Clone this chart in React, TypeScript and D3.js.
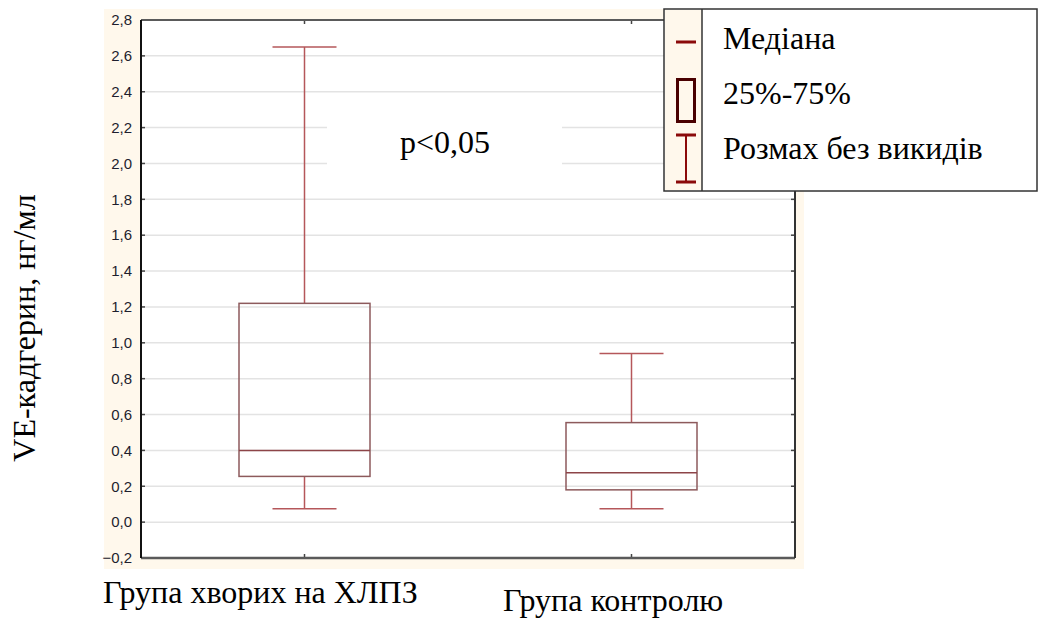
import * as d3 from "d3";

// data
const categories = ["Група хворих на ХЛПЗ", "Група контролю"];
const whiskerMax = [2.65, 0.94];
const q3 = [1.22, 0.555];
const medians = [0.4, 0.275];
const q1 = [0.255, 0.18];
const whiskerMin = [0.075, 0.075];
const yTicks = [-0.2, 0, 0.2, 0.4, 0.6, 0.8, 1.0, 1.2, 1.4, 1.6, 1.8, 2.0, 2.2, 2.4, 2.6, 2.8];
const legendItems = ["Медіана", "25%-75%", "Розмах без викидів"];

const W = 1039;
const H = 619;
const plot = { left: 141, right: 795, top: 20, bottom: 558 };

const serif = { fontFamily: "Liberation Serif" };
const sans = { fontFamily: "Liberation Sans" };

export default function App() {
  const y = d3.scaleLinear().domain([-0.2, 2.8]).range([plot.bottom, plot.top]);
  const x = d3.scalePoint<string>().domain(categories).range([plot.left, plot.right]).padding(0.5);

  const boxW = 131;
  const capW = 64;
  const fmt = (v: number) => d3.format(".1f")(v).replace(".", ",");

  return (
    <svg width={W} height={H} style={{ position: "absolute", left: 0, top: 0, background: "#fff" }}>
      {/* cream frame around plot */}
      <rect x={104} y={9} width={700} height={560} fill="#fff8ec" />
      <rect x={plot.left} y={plot.top} width={plot.right - plot.left} height={plot.bottom - plot.top} fill="#fff" />

      {/* grid lines */}
      {yTicks.slice(1, -1).map((t) => (
        <line key={"g" + t} x1={plot.left} x2={plot.right} y1={y(t)} y2={y(t)} stroke="#e3e3e3" strokeWidth={1.5} />
      ))}

      {/* white patch behind p-value */}
      <rect x={327} y={108} width={235} height={70} fill="#fff" />
      <text x={400} y={153} fontSize={32} fill="#000" style={serif}>p&lt;0,05</text>

      {/* boxes and whiskers */}
      {categories.map((c, i) => {
        const cx = x(c) as number;
        return (
          <g key={c}>
            <line x1={cx} x2={cx} y1={y(whiskerMax[i])} y2={y(q3[i])} stroke="#b5575a" strokeWidth={1.5} />
            <line x1={cx} x2={cx} y1={y(q1[i])} y2={y(whiskerMin[i])} stroke="#b5575a" strokeWidth={1.5} />
            <line x1={cx - capW / 2} x2={cx + capW / 2} y1={y(whiskerMax[i])} y2={y(whiskerMax[i])} stroke="#b5575a" strokeWidth={1.5} />
            <line x1={cx - capW / 2} x2={cx + capW / 2} y1={y(whiskerMin[i])} y2={y(whiskerMin[i])} stroke="#b5575a" strokeWidth={1.5} />
            <rect x={cx - boxW / 2} y={y(q3[i])} width={boxW} height={y(q1[i]) - y(q3[i])} fill="none" stroke="#8d5a5c" strokeWidth={1.5} />
            <line x1={cx - boxW / 2} x2={cx + boxW / 2} y1={y(medians[i])} y2={y(medians[i])} stroke="#8d4448" strokeWidth={1.5} />
            {/* category tick marks */}
            <line x1={cx} x2={cx} y1={plot.bottom} y2={plot.bottom - 4} stroke="#444" strokeWidth={1.5} />
            <line x1={cx} x2={cx} y1={plot.top} y2={plot.top + 4} stroke="#444" strokeWidth={1.5} />
          </g>
        );
      })}

      {/* y ticks */}
      {yTicks.map((t) => (
        <g key={"t" + t}>
          <line x1={plot.left} x2={plot.left + 4} y1={y(t)} y2={y(t)} stroke="#444" strokeWidth={1.5} />
          <line x1={plot.right} x2={plot.right - 4} y1={y(t)} y2={y(t)} stroke="#444" strokeWidth={1.5} />
          <text x={132} y={y(t)} dy="0.35em" textAnchor="end" fontSize={15} fill="#1e1e2e" style={sans}>
            {fmt(t)}
          </text>
        </g>
      ))}

      {/* axes frame */}
      <line x1={plot.left} x2={plot.right} y1={plot.top} y2={plot.top} stroke="#5a5a5a" strokeWidth={2} />
      <line x1={plot.left} x2={plot.right} y1={plot.bottom} y2={plot.bottom} stroke="#5a5a5a" strokeWidth={2.5} />
      <line x1={plot.left} x2={plot.left} y1={plot.top} y2={plot.bottom} stroke="#111" strokeWidth={2} />
      <line x1={plot.right} x2={plot.right} y1={plot.top} y2={plot.bottom} stroke="#333" strokeWidth={2} />

      {/* category labels */}
      <text x={103} y={603} fontSize={32} fill="#000" style={serif}>{categories[0]}</text>
      <text x={503} y={611} fontSize={32} fill="#000" style={serif}>{categories[1]}</text>

      {/* y axis label */}
      <text transform="translate(35,328) rotate(-90)" textAnchor="middle" fontSize={32} fill="#000" style={serif}>
        VE-кадгерин, нг/мл
      </text>

      {/* legend */}
      <g>
        <rect x={664} y={9} width={373} height={182} fill="#fff" stroke="#333" strokeWidth={1.5} />
        <rect x={665} y={10} width={37} height={180} fill="#fff8ec" />
        <line x1={702} x2={702} y1={9} y2={191} stroke="#333" strokeWidth={1.5} />
        {/* median symbol */}
        <line x1={676} x2={696} y1={42} y2={42} stroke="#8b0a0a" strokeWidth={3} />
        {/* box symbol */}
        <rect x={677.5} y={79.5} width={17} height={42} fill="none" stroke="#4a0000" strokeWidth={3} />
        {/* whisker symbol */}
        <line x1={676} x2={696} y1={135} y2={135} stroke="#8b0a0a" strokeWidth={3} />
        <line x1={676} x2={696} y1={182} y2={182} stroke="#8b0a0a" strokeWidth={3} />
        <line x1={686} x2={686} y1={135} y2={182} stroke="#8b0a0a" strokeWidth={2} />
        {legendItems.map((t, i) => (
          <text key={t} x={723} y={49 + i * 55} fontSize={32} fill="#000" style={serif}>
            {t}
          </text>
        ))}
      </g>
    </svg>
  );
}
